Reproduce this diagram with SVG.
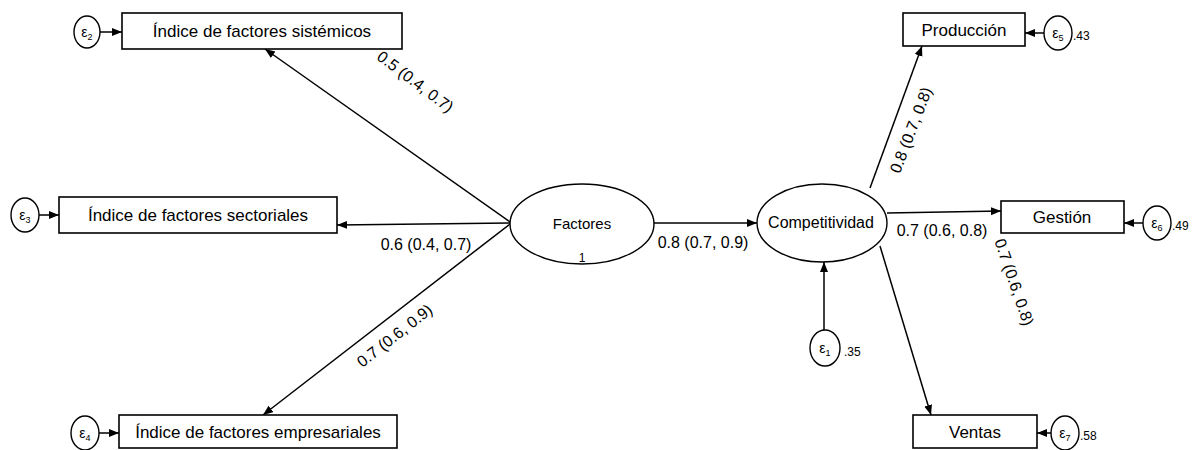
<svg xmlns="http://www.w3.org/2000/svg" width="1198" height="450" viewBox="0 0 1198 450">
<defs>
<marker id="ah" markerUnits="userSpaceOnUse" markerWidth="11" markerHeight="9" refX="10" refY="4" orient="auto">
<path d="M0,0 L10,4 L0,8 z" fill="#000"/>
</marker>
<style>
.box{fill:#fff;stroke:#000;stroke-width:1.6}
.lat{fill:#fff;stroke:#000;stroke-width:1.4}
.err{fill:#fff;stroke:#000;stroke-width:1.4}
.bt{font-family:"Liberation Sans",Arial,sans-serif;font-size:17px;fill:#000;text-anchor:middle}
.lt{font-family:"Liberation Sans",Arial,sans-serif;font-size:15px;fill:#000;text-anchor:middle}
.et{font-family:"Liberation Sans",Arial,sans-serif;font-size:14px;fill:#000;text-anchor:middle}
.sub{font-size:9px}
.vt{font-family:"Liberation Sans",Arial,sans-serif;font-size:12px;fill:#000}
.cl{font-family:"Liberation Sans",Arial,sans-serif;font-size:16px;fill:#000;text-anchor:middle}
.c{stroke:#000;stroke-width:1.5;fill:none;marker-end:url(#ah)}
</style>
</defs>
<rect width="1198" height="450" fill="#fff"/>

<g id="connectors">
<line class="c" x1="510" y1="222" x2="265" y2="49"/>
<line class="c" x1="510" y1="223" x2="337" y2="225"/>
<line class="c" x1="510" y1="224" x2="263" y2="415"/>
<line class="c" x1="654" y1="223" x2="757" y2="223"/>
<line class="c" x1="824" y1="330" x2="824" y2="262"/>
<line class="c" x1="870" y1="188" x2="922" y2="46"/>
<line class="c" x1="887" y1="213" x2="1001" y2="211"/>
<line class="c" x1="880" y1="246" x2="931" y2="415"/>
<line class="c" x1="100" y1="32" x2="122" y2="32"/>
<line class="c" x1="39" y1="215" x2="59" y2="215"/>
<line class="c" x1="99" y1="433" x2="119" y2="433"/>
<line class="c" x1="1044" y1="33" x2="1025" y2="33"/>
<line class="c" x1="1143" y1="223" x2="1124" y2="223"/>
<line class="c" x1="1051" y1="433" x2="1037" y2="433"/>
<text class="cl" transform="translate(412,86) rotate(37)">0.5 (0.4, 0.7)</text>
<text class="cl" x="426" y="250">0.6 (0.4, 0.7)</text>
<text class="cl" transform="translate(398,340) rotate(-38)">0.7 (0.6, 0.9)</text>
<text class="cl" x="703" y="248">0.8 (0.7, 0.9)</text>
<text class="cl" transform="translate(916,132) rotate(-69)">0.8 (0.7, 0.8)</text>
<text class="cl" x="942" y="236">0.7 (0.6, 0.8)</text>
<text class="cl" transform="translate(1009,284) rotate(71)">0.7 (0.6, 0.8)</text>
</g>

<g id="n_sistemicos">
<rect class="box" x="122" y="13" width="280" height="36"/>
<text class="bt" x="262" y="37">Índice de factores sistémicos</text>
</g>
<g id="n_sectoriales">
<rect class="box" x="59" y="197" width="278" height="36"/>
<text class="bt" x="198" y="221">Índice de factores sectoriales</text>
</g>
<g id="n_empresariales">
<rect class="box" x="119" y="415" width="278" height="33"/>
<text class="bt" x="258" y="438">Índice de factores empresariales</text>
</g>
<g id="n_produccion">
<rect class="box" x="903" y="13" width="122" height="33"/>
<text class="bt" x="964" y="36">Producción</text>
</g>
<g id="n_gestion">
<rect class="box" x="1001" y="201" width="123" height="32"/>
<text class="bt" x="1062" y="223">Gestión</text>
</g>
<g id="n_ventas">
<rect class="box" x="913" y="415" width="124" height="33"/>
<text class="bt" x="975" y="438">Ventas</text>
</g>

<g id="n_factores">
<ellipse class="lat" cx="582" cy="224" rx="72" ry="40"/>
<text class="lt" x="582" y="229">Factores</text>
<text class="vt" x="582" y="262" text-anchor="middle">1</text>
</g>
<g id="n_competitividad">
<ellipse class="lat" cx="822" cy="223" rx="65" ry="39"/>
<text class="lt" x="821" y="228" style="font-size:16px">Competitividad</text>
</g>

<g id="e1">
<ellipse class="err" cx="825" cy="348" rx="15" ry="18"/>
<text class="et" x="825" y="353">ε<tspan class="sub" dy="3">1</tspan></text>
<text class="vt" x="844" y="356">.35</text>
</g>
<g id="e2">
<ellipse class="err" cx="87" cy="32" rx="13" ry="16"/>
<text class="et" x="87" y="37">ε<tspan class="sub" dy="3">2</tspan></text>
</g>
<g id="e3">
<ellipse class="err" cx="25" cy="215" rx="14" ry="17"/>
<text class="et" x="25" y="220">ε<tspan class="sub" dy="3">3</tspan></text>
</g>
<g id="e4">
<ellipse class="err" cx="85" cy="433" rx="14" ry="17"/>
<text class="et" x="85" y="438">ε<tspan class="sub" dy="3">4</tspan></text>
</g>
<g id="e5">
<ellipse class="err" cx="1058" cy="33" rx="14" ry="17"/>
<text class="et" x="1058" y="38">ε<tspan class="sub" dy="3">5</tspan></text>
<text class="vt" x="1073" y="40">.43</text>
</g>
<g id="e6">
<ellipse class="err" cx="1157" cy="223" rx="14" ry="17"/>
<text class="et" x="1157" y="228">ε<tspan class="sub" dy="3">6</tspan></text>
<text class="vt" x="1172" y="230">.49</text>
</g>
<g id="e7">
<ellipse class="err" cx="1065" cy="433" rx="14" ry="17"/>
<text class="et" x="1065" y="438">ε<tspan class="sub" dy="3">7</tspan></text>
<text class="vt" x="1080" y="440">.58</text>
</g>
</svg>
